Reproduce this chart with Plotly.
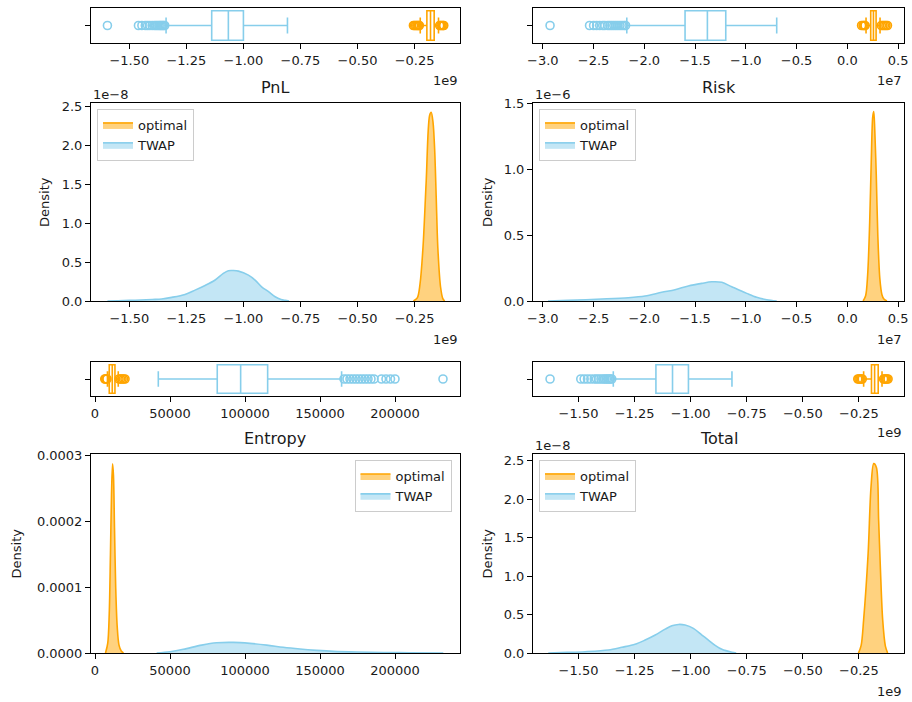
import plotly.graph_objects as go

W, H = 912, 702
ORANGE = "#FFA500"
BLUE = "#87CEEB"
ORANGE_FILL = "rgba(255,165,0,0.5)"
BLUE_FILL = "rgba(135,206,235,0.5)"
FONT = "DejaVu Sans"
TXT = "#1a1a1a"

# ---------------- PnL (x in units of 1e9, density in units of 1e-8) ----------------
pnl_opt_x = [-0.255, -0.238, -0.226, -0.213, -0.199, -0.184, -0.177, -0.169, -0.162, -0.155, -0.148, -0.136, -0.126, -0.118]
pnl_opt_d = [0.0, 0.04, 0.22, 0.69, 1.54, 2.39, 2.43, 2.30, 1.96, 1.33, 0.69, 0.18, 0.03, 0.0]
pnl_twap_x = [-1.596, -1.55, -1.50, -1.45, -1.40, -1.358, -1.314, -1.256, -1.212, -1.168, -1.124, -1.088,
              -1.066, -1.044, -1.022, -0.978, -0.949, -0.919, -0.890, -0.861, -0.835, -0.817, -0.800]
pnl_twap_d = [0.0, 0.004, 0.008, 0.013, 0.02, 0.026, 0.047, 0.085, 0.14, 0.20, 0.27, 0.355,
              0.39, 0.392, 0.385, 0.333, 0.27, 0.18, 0.12, 0.055, 0.02, 0.008, 0.0]
# box stats: lower whisker, q1, median, q3, upper whisker
pnl_opt_box = [-0.225, -0.196, -0.180, -0.164, -0.145]
pnl_twap_box = [-1.339, -1.139, -1.066, -1.000, -0.807]
pnl_opt_out = [-0.255, -0.25, -0.245, -0.24, -0.236, -0.232, -0.229, -0.14, -0.135, -0.13, -0.125, -0.122]
pnl_twap_out = [-1.596, -1.46, -1.445, -1.43, -1.42, -1.41, -1.40, -1.39, -1.383, -1.376, -1.37,
                -1.365, -1.36, -1.355, -1.35, -1.345]

# ---------------- Risk (x in units of 1e7, density in units of 1e-6) ----------------
risk_opt_x = [0.155, 0.18, 0.20, 0.22, 0.235, 0.25, 0.26, 0.27, 0.285, 0.30, 0.32, 0.34, 0.36, 0.39]
risk_opt_d = [0.0, 0.04, 0.2, 0.6, 1.05, 1.4, 1.44, 1.3, 0.95, 0.5, 0.17, 0.05, 0.015, 0.0]
risk_twap_x = [-2.949, -2.749, -2.42, -2.158, -1.993, -1.829, -1.698, -1.567, -1.434, -1.336, -1.237,
               -1.139, -0.991, -0.893, -0.794, -0.696]
risk_twap_d = [0.0, 0.005, 0.015, 0.025, 0.038, 0.066, 0.086, 0.114, 0.134, 0.146, 0.142,
               0.108, 0.058, 0.028, 0.01, 0.0]
risk_opt_box = [0.184, 0.230, 0.257, 0.283, 0.322]
risk_twap_box = [-2.173, -1.599, -1.379, -1.198, -0.696]
risk_opt_out = [0.14, 0.155, 0.165, 0.175, 0.335, 0.35, 0.365, 0.38, 0.395]
risk_twap_out = [-2.929, -2.54, -2.50, -2.47, -2.44, -2.41, -2.39, -2.36, -2.34, -2.32, -2.30,
                 -2.28, -2.26, -2.24, -2.22, -2.20, -2.185]

# ---------------- Entropy ----------------
ent_opt_x = [7000, 8500, 9500, 10300, 11000, 11700, 12300, 13000, 13800, 14800, 16000, 17500, 19000]
ent_opt_d = [0.0, 1.5e-5, 6e-5, 1.5e-4, 2.4e-4, 2.87e-4, 2.7e-4, 1.9e-4, 1.0e-4, 4e-5, 1.2e-5, 3e-6, 0.0]
ent_twap_x = [41100, 50000, 58900, 71100, 81100, 92200, 103300, 114500, 125500, 136700, 147800,
              158900, 174500, 192200, 210000, 232200]
ent_twap_d = [0.0, 2e-6, 5.6e-6, 1.2e-5, 1.55e-5, 1.61e-5, 1.46e-5, 1.2e-5, 8.6e-6, 6e-6, 4e-6,
              2.5e-6, 1.5e-6, 8e-7, 3e-7, 0.0]
ent_opt_box = [8300, 9500, 11500, 13300, 15500]
ent_twap_box = [42200, 81500, 97100, 115100, 164400]
ent_opt_out = [6500, 7000, 7500, 8000, 16000, 17000, 18000, 19000, 20000]
ent_twap_out = [166000, 168000, 170000, 172000, 174000, 176000, 178000, 180000, 182000, 184000,
                186000, 191000, 194000, 197000, 200000, 232000]

# ---------------- Total (x in units of 1e9, density in units of 1e-8) ----------------
tot_opt_x = [-0.252, -0.24, -0.229, -0.209, -0.196, -0.184, -0.172, -0.162, -0.154, -0.144, -0.132, -0.122]
tot_opt_d = [0.0, 0.1, 0.43, 1.29, 2.16, 2.46, 2.41, 1.72, 1.08, 0.43, 0.09, 0.0]
tot_twap_x = [-1.635, -1.55, -1.471, -1.367, -1.307, -1.248, -1.203, -1.158, -1.114, -1.084, -1.054,
              -1.025, -0.988, -0.95, -0.921, -0.891, -0.861, -0.816, -0.797]
tot_twap_d = [0.0, 0.008, 0.017, 0.039, 0.074, 0.113, 0.168, 0.233, 0.31, 0.354, 0.371,
              0.363, 0.32, 0.233, 0.168, 0.1, 0.048, 0.01, 0.0]
tot_opt_box = [-0.229, -0.194, -0.180, -0.164, -0.147]
tot_twap_box = [-1.345, -1.155, -1.081, -1.010, -0.816]
tot_opt_out = [-0.255, -0.25, -0.245, -0.24, -0.235, -0.14, -0.135, -0.13, -0.125, -0.12]
tot_twap_out = [-1.627, -1.49, -1.475, -1.46, -1.445, -1.43, -1.42, -1.41, -1.40, -1.39, -1.383,
                -1.376, -1.37, -1.364, -1.358, -1.352]

titles = ["PnL", "Risk", "Entropy", "Total"]
series_names = ["optimal", "TWAP"]

# layout geometry (pixels)
cols = {0: (91, 459.5), 1: (533, 904)}
rows = {0: ((8, 43), (103, 301)), 1: ((362, 396), (454, 653))}

panels = [
    dict(title=titles[0], col=0, row=0, xr=[-1.668, -0.053], yr=[0, 2.55], xt=[-1.5, -1.25, -1.0, -0.75, -0.5, -0.25],
         xf=".2f", yt=[0, 0.5, 1.0, 1.5, 2.0, 2.5], yf=".1f", xoff="1e9", yoff="1e\u22128", leg="left",
         opt=(pnl_opt_x, pnl_opt_d), twap=(pnl_twap_x, pnl_twap_d),
         box=(pnl_opt_box, pnl_twap_box), out=(pnl_opt_out, pnl_twap_out)),
    dict(title=titles[1], col=1, row=0, xr=[-3.097, 0.558], yr=[0, 1.505], xt=[-3.0, -2.5, -2.0, -1.5, -1.0, -0.5, 0.0, 0.5],
         xf=".1f", yt=[0, 0.5, 1.0, 1.5], yf=".1f", xoff="1e7", yoff="1e\u22126", leg="left",
         opt=(risk_opt_x, risk_opt_d), twap=(risk_twap_x, risk_twap_d),
         box=(risk_opt_box, risk_twap_box), out=(risk_opt_out, risk_twap_out)),
    dict(title=titles[2], col=0, row=1, xr=[-2667, 243000], yr=[0, 0.000302], xt=[0, 50000, 100000, 150000, 200000],
         xf="d", yt=[0, 0.0001, 0.0002, 0.0003], yf=".4f", xoff=None, yoff=None, leg="right",
         opt=(ent_opt_x, ent_opt_d), twap=(ent_twap_x, ent_twap_d),
         box=(ent_opt_box, ent_twap_box), out=(ent_opt_out, ent_twap_out)),
    dict(title=titles[3], col=1, row=1, xr=[-1.703, -0.049], yr=[0, 2.585], xt=[-1.5, -1.25, -1.0, -0.75, -0.5, -0.25],
         xf=".2f", yt=[0, 0.5, 1.0, 1.5, 2.0, 2.5], yf=".1f", xoff="1e9", yoff="1e\u22128", leg="left",
         opt=(tot_opt_x, tot_opt_d), twap=(tot_twap_x, tot_twap_d),
         box=(tot_opt_box, tot_twap_box), out=(tot_opt_out, tot_twap_out)),
]

fig = go.Figure()
annotations = []
layout = dict(
    template="none",
    width=W, height=H, margin=dict(l=0, r=0, t=0, b=0, pad=0, autoexpand=False),
    paper_bgcolor="white", plot_bgcolor="white",
    font=dict(family=FONT, size=13, color=TXT),
    boxmode="overlay", showlegend=True, hovermode=False,
)

def ax_common():
    return dict(showline=True, linecolor="black", linewidth=1, mirror=True, showgrid=False,
                zeroline=False, ticks="outside", ticklen=5, tickwidth=1, tickcolor="black",
                automargin=False, tickfont=dict(family=FONT, size=13, color=TXT))

colors = [(ORANGE, ORANGE_FILL), (BLUE, BLUE_FILL)]

for i, p in enumerate(panels):
    bx = 2 * i + 1
    hx = 2 * i + 2
    x0, x1 = cols[p["col"]]
    (by0, by1), (hy0, hy1) = rows[p["row"]]
    xdom = [x0 / W, x1 / W]
    bsuf = "" if bx == 1 else str(bx)
    hsuf = str(hx)

    layout["xaxis" + bsuf] = dict(ax_common(), domain=xdom, range=p["xr"], tickvals=p["xt"],
                                  tickformat=p["xf"], anchor="y" + bsuf)
    layout["yaxis" + bsuf] = dict(ax_common(), domain=[1 - by1 / H, 1 - by0 / H], range=[-0.5, 0.5],
                                  tickvals=[0], ticktext=[""], anchor="x" + bsuf)
    layout["xaxis" + hsuf] = dict(ax_common(), domain=xdom, range=p["xr"], tickvals=p["xt"],
                                  tickformat=p["xf"], anchor="y" + hsuf)
    layout["yaxis" + hsuf] = dict(ax_common(), domain=[1 - hy1 / H, 1 - hy0 / H], range=p["yr"],
                                  tickvals=p["yt"], tickformat=p["yf"], anchor="x" + hsuf)

    legname = "legend" if i == 0 else "legend" + str(i + 1)

    # histograms / density
    for k, (xs, ds) in enumerate([p["opt"], p["twap"]]):
        lc, fc = colors[k]
        fig.add_trace(go.Scatter(
            x=xs, y=ds, mode="lines", fill="tozeroy", fillcolor=fc,
            line=dict(color=lc, width=1.6, shape="spline", smoothing=0.9),
            name=series_names[k], legend=legname, showlegend=True,
            xaxis="x" + hsuf, yaxis="y" + hsuf))

    # boxes
    for k, stats in enumerate(p["box"]):
        lc, fc = colors[k]
        lo, q1, med, q3, hi = stats
        fig.add_trace(go.Box(
            orientation="h", y=[0], q1=[q1], median=[med], q3=[q3], lowerfence=[lo], upperfence=[hi],
            width=0.84, whiskerwidth=0.55, fillcolor="rgba(255,255,255,0)",
            line=dict(color=lc, width=1.6), boxpoints=False, showlegend=False,
            xaxis="x" + bsuf, yaxis="y" + bsuf))
        fig.add_trace(go.Scatter(
            x=p["out"][k], y=[0] * len(p["out"][k]), mode="markers",
            marker=dict(symbol="circle-open", size=8, color=lc, line=dict(width=1.6, color=lc)),
            showlegend=False, xaxis="x" + bsuf, yaxis="y" + bsuf))

    # legend
    leg = dict(bgcolor="rgba(255,255,255,0.85)", bordercolor="#cccccc", borderwidth=1,
               font=dict(family=FONT, size=13, color=TXT), itemwidth=30, tracegroupgap=0,
               yanchor="top", y=1 - (hy0 + 6) / H)
    if p["leg"] == "left":
        leg.update(xanchor="left", x=(x0 + 6) / W)
    else:
        leg.update(xanchor="right", x=(x1 - 8) / W)
    layout[legname] = leg

    # title
    annotations.append(dict(text=p["title"], x=(x0 + x1) / 2 / W, y=1 - (hy0 - 16) / H,
                            xref="paper", yref="paper", showarrow=False,
                            font=dict(family=FONT, size=16, color=TXT), xanchor="center", yanchor="middle"))
    # y label
    ylab_x = 44 if p["col"] == 0 else 487
    if p["title"] == "Entropy":
        ylab_x = 16
    annotations.append(dict(text="Density", x=ylab_x / W, y=1 - (hy0 + hy1) / 2 / H,
                            xref="paper", yref="paper", showarrow=False, textangle=-90,
                            font=dict(family=FONT, size=13, color=TXT), xanchor="center", yanchor="middle"))
    # offsets
    if p["xoff"]:
        annotations.append(dict(text=p["xoff"], x=x1 / W, y=1 - (by1 + 37) / H, xref="paper", yref="paper",
                                showarrow=False, xanchor="right", yanchor="middle",
                                font=dict(family=FONT, size=13, color=TXT)))
        annotations.append(dict(text=p["xoff"], x=x1 / W, y=1 - (hy1 + 38) / H, xref="paper", yref="paper",
                                showarrow=False, xanchor="right", yanchor="middle",
                                font=dict(family=FONT, size=13, color=TXT)))
    if p["yoff"]:
        annotations.append(dict(text=p["yoff"], x=x0 / W, y=1 - (hy0 - 9) / H, xref="paper", yref="paper",
                                showarrow=False, xanchor="left", yanchor="middle",
                                font=dict(family=FONT, size=13, color=TXT)))

layout["annotations"] = annotations
fig.update_layout(**layout)
fig.write_html("out.html", config={"displayModeBar": False, "staticPlot": True},
               post_script="document.body.style.margin='0px';document.body.style.padding='0px';"
                           "document.body.style.overflow='hidden';")
